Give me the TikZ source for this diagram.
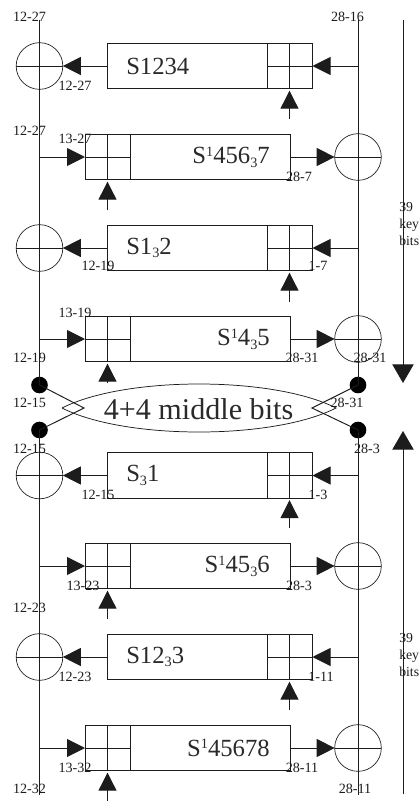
\documentclass[tikz,border=0pt]{standalone}
\usepackage{fontspec}
\setmainfont{Liberation Serif}
\usetikzlibrary{arrows.meta}
\definecolor{ink}{HTML}{1C1C1C}
\definecolor{txt}{HTML}{2A2A2A}
\newcommand{\supd}[1]{\raisebox{5.6pt}{\fontsize{10.7}{11}\selectfont #1}}
\newcommand{\subd}[1]{\raisebox{-2.6pt}{\fontsize{10.7}{11}\selectfont #1}}
\tikzset{
  x=0.75pt,y=-0.75pt,
  wire/.style={draw=ink,line width=0.72pt},
  thinwire/.style={draw=ink,line width=0.55pt},
  headline/.style={wire,-{Triangle[length=13.5pt,width=13.5pt]}},
  sbox/.style={draw=ink,line width=0.72pt,rectangle,minimum width=153.75pt,minimum height=34.2pt,inner sep=0pt,outer sep=0pt},
  cellbox/.style={draw=ink,line width=0.72pt,rectangle,minimum width=33.75pt,minimum height=34.2pt,inner sep=0pt,outer sep=0pt,
    path picture={\draw[ink,line width=0.72pt] (path picture bounding box.north) -- (path picture bounding box.south)
      (path picture bounding box.west) -- (path picture bounding box.east);}},
  xorc/.style={draw=ink,line width=0.5pt,circle,minimum size=35pt,inner sep=0pt,outer sep=0pt,
    path picture={\draw[ink,line width=0.6pt] (path picture bounding box.west) -- (path picture bounding box.east);}},
  bigdot/.style={circle,fill=black,minimum size=12.5pt,inner sep=0pt,outer sep=0pt},
  smalllab/.style={font=\fontsize{10.6}{12}\selectfont,text=ink,inner sep=0pt},
  boxname/.style={font=\fontsize{18.5}{22}\selectfont,text=txt,inner sep=0pt},
  keytxt/.style={font=\fontsize{10.3}{12.9}\selectfont,text=ink,inner sep=0pt,anchor=west,align=left},
}
\begin{document}
\begin{tikzpicture}
\useasboundingbox[fill=white] (0,0) rectangle (419,801);
% buses
\coordinate (ltop) at (39.5,20);
\coordinate (lbot) at (39.5,795);
\coordinate (rtop) at (358,20);
\coordinate (rbot) at (358,795);
\node[bigdot] (d1) at (39.5,385) {};
\node[bigdot] (d2) at (39.5,430) {};
\node[bigdot] (d3) at (358,385) {};
\node[bigdot] (d4) at (358,430) {};
\draw[wire] (ltop) -- (d1.center) (d2.center) -- (lbot);
\draw[wire] (rtop) -- (d3.center) (d4.center) -- (rbot);
% rows flowing left
\foreach \i/\yy/\tail in {1/66/119,3/248/302,5/475.5/528,7/657/710}{
  \node[sbox] (s\i) at (210,\yy) {};
  \node[cellbox] (k\i) at (289.5,\yy) {};
  \node[xorc] (c\i) at (39.5,\yy) {};
  \coordinate (r\i) at (358,\yy);
  \coordinate (u\i) at (289.5,\tail);
  \draw[headline] (s\i.west) -- (c\i.east);
  \draw[headline] (r\i) -- (s\i.east);
  \draw[headline,shorten >=1.4pt] (u\i) -- (k\i.south);
}
% rows flowing right
\foreach \i/\yy/\tail in {2/157/210,4/339/383,6/566/619,8/748/801}{
  \node[sbox] (s\i) at (187.5,\yy) {};
  \node[cellbox] (k\i) at (107.5,\yy) {};
  \node[xorc] (c\i) at (358,\yy) {};
  \coordinate (r\i) at (39.5,\yy);
  \coordinate (u\i) at (107.5,\tail);
  \draw[headline] (r\i) -- (s\i.west);
  \draw[headline] (s\i.east) -- (c\i.west);
  \draw[headline,shorten >=1.4pt] (u\i) -- (k\i.south);
}
% middle lens
\coordinate (ll) at (62,408);
\coordinate (lr) at (336,408);
\coordinate (xl) at (84,408);
\coordinate (xr) at (312,408);
\draw[thinwire] (ll) .. controls (125,376) and (273,376) .. (lr)
                      .. controls (273,440) and (125,440) .. (ll);
\draw[wire] (d1.center) -- (xl) -- (d2.center);
\draw[wire] (d3.center) -- (xr) -- (d4.center);
\node[font=\fontsize{22.6}{26}\selectfont,text=txt,inner sep=0pt] (mid) at (198.5,409) {4+4 middle bits};
% key arrows
\coordinate (ka) at (403,20);
\coordinate (kb) at (403,383);
\coordinate (kc) at (403,794);
\coordinate (kd) at (403,431);
\draw[wire,-{Triangle[length=14pt,width=16pt]}] (ka) -- (kb);
\draw[wire,-{Triangle[length=14pt,width=16pt]}] (kc) -- (kd);
% S-box names
\node[boxname,anchor=west] (n1) at (126,66) {S1234};
\node[boxname,anchor=east] (n2) at (270,157) {S\supd{1}456\subd{3}7};
\node[boxname,anchor=west] (n3) at (126,248) {S1\subd{3}2};
\node[boxname,anchor=east] (n4) at (270,339) {S\supd{1}4\subd{3}5};
\node[boxname,anchor=west] (n5) at (126,475.5) {S\subd{3}1};
\node[boxname,anchor=east] (n6) at (270,566) {S\supd{1}45\subd{3}6};
\node[boxname,anchor=west] (n7) at (126,657) {S12\subd{3}3};
\node[boxname,anchor=east] (n8) at (270,748) {S\supd{1}45678};
% small labels
\node[smalllab] (a1) at (29.5,17) {12-27};
\node[smalllab] (a2) at (347.5,17) {28-16};
\node[smalllab] (a3) at (75,86) {12-27};
\node[smalllab] (a4) at (29.5,131) {12-27};
\node[smalllab] (a5) at (75,139) {13-27};
\node[smalllab] (a6) at (299,177) {28-7};
\node[smalllab] (a7) at (98,266) {12-19};
\node[smalllab] (a8) at (318,266) {1-7};
\node[smalllab] (a9) at (75,313) {13-19};
\node[smalllab] (a10) at (302,358) {28-31};
\node[smalllab] (a11) at (370,358) {28-31};
\node[smalllab] (a12) at (29.5,358) {12-19};
\node[smalllab] (a13) at (29.5,403) {12-15};
\node[smalllab] (a14) at (347,403) {28-31};
\node[smalllab] (a15) at (29.5,449) {12-15};
\node[smalllab] (a16) at (367,449) {28-3};
\node[smalllab] (a17) at (98,495) {12-15};
\node[smalllab] (a18) at (318,495) {1-3};
\node[smalllab] (a19) at (83,586) {13-23};
\node[smalllab] (a20) at (299,586) {28-3};
\node[smalllab] (a21) at (29.5,608) {12-23};
\node[smalllab] (a22) at (75,677) {12-23};
\node[smalllab] (a23) at (321,677) {1-11};
\node[smalllab] (a24) at (75,768) {13-32};
\node[smalllab] (a25) at (302,768) {28-11};
\node[smalllab] (a26) at (29.5,789) {12-32};
\node[smalllab] (a27) at (355,789) {28-11};
\node[keytxt] (b1) at (399,224) {39\\key\\bits};
\node[keytxt] (b2) at (399,655) {39\\key\\bits};
\end{tikzpicture}
\end{document}
